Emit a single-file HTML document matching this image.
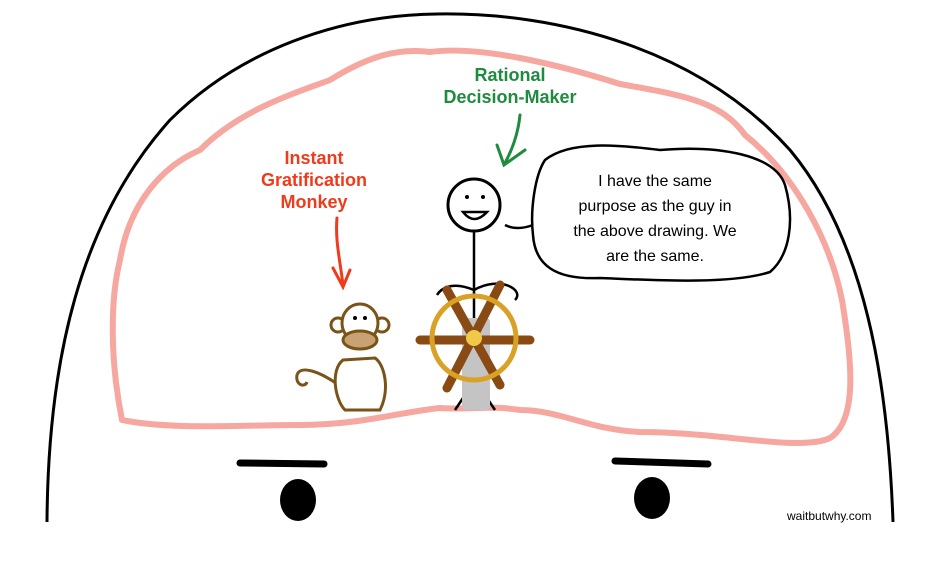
<!DOCTYPE html>
<html><head><meta charset="utf-8"><style>
html,body{margin:0;padding:0;background:#fff;width:933px;height:569px;overflow:hidden}
svg{display:block}
text{font-family:"Liberation Sans",sans-serif;font-weight:bold}
</style></head><body>
<svg width="933" height="569" viewBox="0 0 933 569">
<rect width="933" height="569" fill="#fff"/>
<!-- head -->
<path d="M47 522 C48 360 80 220 170 120 C240 50 340 15 437 14 C560 12 700 50 790 150 C865 240 888 380 893 522" fill="none" stroke="#000" stroke-width="3"/>
<!-- brain -->
<path d="M122 420 C110 360 110 300 120 260 C130 200 165 165 200 150 C240 110 290 95 330 80 C370 55 400 48 430 52 C480 45 560 65 620 84 C680 95 720 100 745 135 C795 175 830 240 842 300 C852 360 858 420 830 438 C800 452 720 432 640 432 C590 430 560 410 520 410 C490 405 470 410 440 408 C400 412 360 425 300 425 C240 425 170 430 122 420 Z" fill="none" stroke="#f5a7a0" stroke-width="6" stroke-linejoin="round"/>
<!-- labels -->
<text x="510" y="81" fill="#1f8b3e" font-size="18" text-anchor="middle">Rational</text>
<text x="510" y="103" fill="#1f8b3e" font-size="18" text-anchor="middle">Decision-Maker</text>
<path d="M520 115 C518 135 512 150 505 163 M497 145 L504 165 L525 150" fill="none" stroke="#1f8b3e" stroke-width="3" stroke-linecap="round"/>
<text x="314" y="164" fill="#f03a1c" font-size="18" text-anchor="middle">Instant</text>
<text x="314" y="186" fill="#f03a1c" font-size="18" text-anchor="middle">Gratification</text>
<text x="314" y="208" fill="#f03a1c" font-size="18" text-anchor="middle">Monkey</text>
<path d="M337 218 C335 240 340 260 343 285 M333 268 L343 287 L350 270" fill="none" stroke="#f03a1c" stroke-width="3" stroke-linecap="round"/>
<!-- bubble -->
<path d="M545 160 C570 140 620 145 660 150 C720 145 775 155 785 185 C795 220 790 255 770 272 C730 285 650 280 600 278 C555 280 535 265 533 235 C530 210 535 175 545 160 Z" fill="#fff" stroke="#000" stroke-width="2.5"/>
<g font-size="16" fill="#000" text-anchor="middle">
<text x="655" y="186" style="font-weight:normal">I have the same</text>
<text x="655" y="211" style="font-weight:normal">purpose as the guy in</text>
<text x="655" y="236" style="font-weight:normal">the above drawing. We</text>
<text x="655" y="261" style="font-weight:normal">are the same.</text>
</g>
<path d="M505 225 C515 230 525 228 533 225" fill="none" stroke="#000" stroke-width="2.5"/>
<!-- stick figure -->
<circle cx="474" cy="205" r="26" fill="#fff" stroke="#000" stroke-width="3"/>
<circle cx="467" cy="197" r="2" fill="#000"/><circle cx="483" cy="197" r="2" fill="#000"/>
<path d="M463 212 Q474 226 487 212 Z" fill="#fff" stroke="#000" stroke-width="2.5"/>
<line x1="474" y1="231" x2="474" y2="330" stroke="#000" stroke-width="2.5"/>
<path d="M474 290 C450 280 440 290 437 295 M474 290 C500 275 525 290 515 300" fill="none" stroke="#000" stroke-width="2.5"/>
<path d="M465 395 L455 410 M485 395 L495 410" stroke="#000" stroke-width="2.5"/>
<!-- wheel stand -->
<rect x="462" y="318" width="28" height="92" rx="4" fill="#c4c4c4"/>
<!-- wheel spokes -->
<g stroke="#8a4a14" stroke-width="9" stroke-linecap="round">
<line x1="420" y1="340" x2="530" y2="340"/>
<line x1="447" y1="290" x2="500" y2="385"/>
<line x1="500" y1="285" x2="447" y2="388"/>
</g>
<circle cx="474" cy="338" r="42" fill="none" stroke="#d9a226" stroke-width="5"/>
<circle cx="474" cy="338" r="8" fill="#f0c94a"/>
<!-- monkey -->
<g stroke="#7a5318" stroke-width="3" fill="#fff">
<path d="M345 390 C320 370 300 365 297 375 C295 385 305 388 307 382" fill="none"/>
<path d="M343 360 C330 370 335 400 345 410 L380 410 C390 390 385 365 375 358 Z"/>
<circle cx="338" cy="325" r="7"/><circle cx="382" cy="325" r="7"/>
<ellipse cx="360" cy="323" rx="18" ry="19"/>
<ellipse cx="360" cy="340" rx="17" ry="9" fill="#c9a274"/>
</g>
<circle cx="355" cy="318" r="2" fill="#000"/><circle cx="365" cy="318" r="2" fill="#000"/>
<!-- eyebrows & eyes -->
<line x1="240" y1="463" x2="324" y2="464" stroke="#000" stroke-width="7" stroke-linecap="round"/>
<line x1="615" y1="461" x2="708" y2="464" stroke="#000" stroke-width="7" stroke-linecap="round"/>
<ellipse cx="298" cy="500" rx="18" ry="21" fill="#000"/>
<ellipse cx="652" cy="498" rx="18" ry="21" fill="#000"/>
<text x="787" y="520" font-size="12" fill="#000" style="font-weight:normal">waitbutwhy.com</text>
</svg>
</body></html>
